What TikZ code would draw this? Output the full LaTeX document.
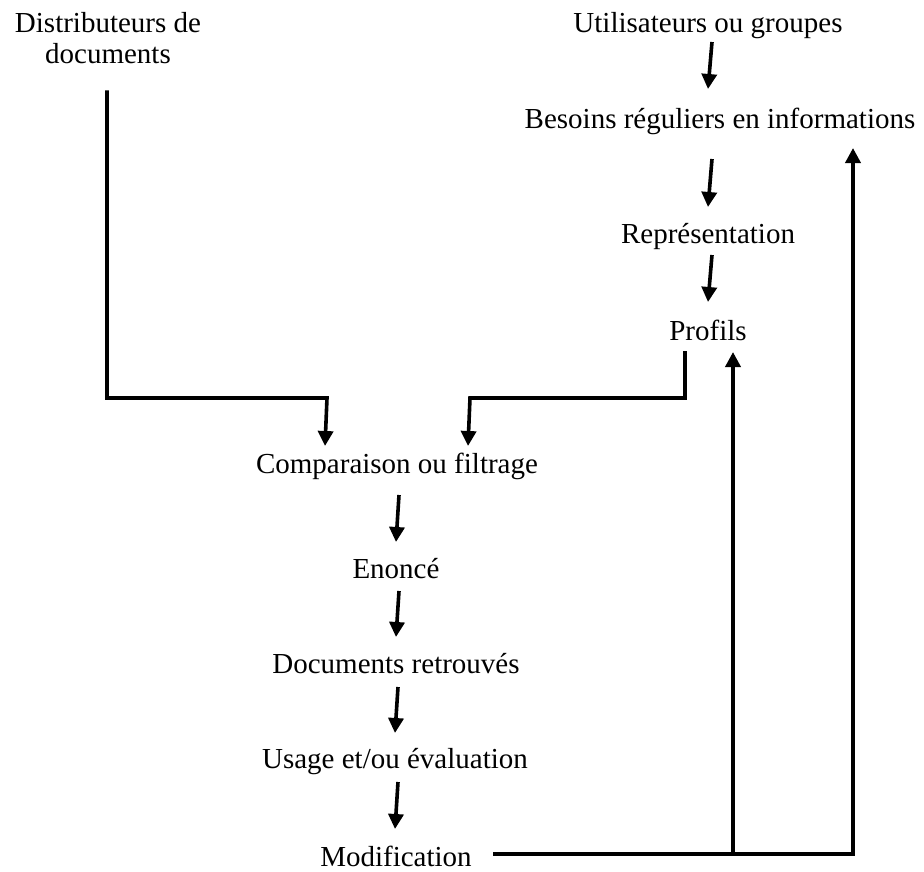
\documentclass[tikz,border=0pt]{standalone}
\usepackage{fontspec}
\setmainfont{Liberation Serif}
\usetikzlibrary{arrows.meta,calc}

\tikzset{
  lbl/.style={anchor=base, inner sep=0pt, font=\fontsize{29}{31}\selectfont},
  conn/.style={line width=3.6pt, draw=black},
  arr/.style={conn, -{Triangle[width=15pt,length=15pt]}},
}

\begin{document}
\begin{tikzpicture}[x=1pt, y=-1pt]
  \useasboundingbox (0,0) rectangle (924,871);

  % text labels (the two-line label is placed by its last baseline)
  \node[lbl, align=center] (dist) at (108,63) {Distributeurs de\\documents};
  \node[lbl] (util)  at (708,32)  {Utilisateurs ou groupes};
  \node[lbl] (bes)   at (720,128) {Besoins réguliers en informations};
  \node[lbl] (rep)   at (708,243) {Représentation};
  \node[lbl] (prof)  at (708,340) {Profils};
  \node[lbl] (comp)  at (397,473) {Comparaison ou filtrage};
  \node[lbl] (enon)  at (396,578) {Enoncé};
  \node[lbl] (docr)  at (396,673) {Documents retrouvés};
  \node[lbl] (usage) at (395,768) {Usage et/ou évaluation};
  \node[lbl] (modif) at (396,866) {Modification};

  % chain on the right
  \draw[arr] ($(util.base)+(4,10)$) -- ($(bes.base-|util.base)+(0,-39)$);
  \draw[arr] ($(bes.base-|rep.base)+(4,31)$) -- ($(rep.base)+(0,-36)$);
  \draw[arr] ($(rep.base)+(4,12)$) -- ($(prof.base)+(0,-38)$);

  % the two inputs of the filtering step
  \draw[arr] ($(dist.south)+(-1,27)$) |- ($(comp.base)+(-70,-75)$)
             -- ($(comp.base)+(-72,-27)$);
  \draw[arr] ($(prof.base)+(-23,11)$) |- ($(comp.base)+(73,-75)$)
             -- ($(comp.base)+(71,-27)$);

  % chain at the bottom
  \draw[arr] ($(comp.base)+(2,22)$)  -- ($(enon.base)+(0,-36)$);
  \draw[arr] ($(enon.base)+(3,13)$)  -- ($(docr.base)+(0,-36)$);
  \draw[arr] ($(docr.base)+(2,14)$)  -- ($(usage.base)+(0,-35)$);
  \draw[arr] ($(usage.base)+(3,14)$) -- ($(modif.base)+(-1,-37)$);

  % feedback loops
  \draw[arr] ($(modif.base)+(97,-12)$) -| ($(bes.base)+(133,20)$);
  \draw[arr] ($(modif.base)+(337,-12)$) -- ($(prof.base)+(25,12)$);
\end{tikzpicture}
\end{document}
